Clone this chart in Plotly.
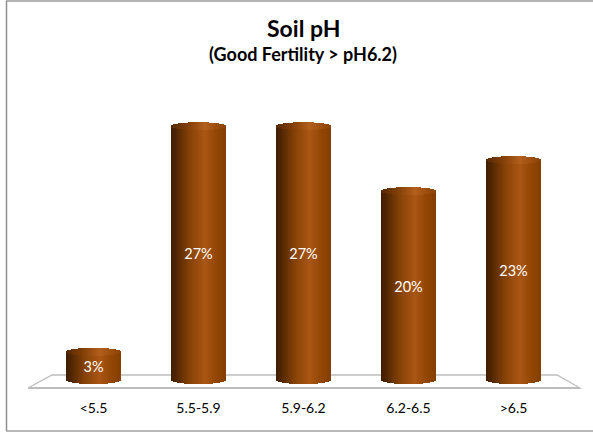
import plotly.graph_objects as go
import numpy as np

categories = ["<5.5", "5.5-5.9", "5.9-6.2", "6.2-6.5", ">6.5"]
values = [3, 27, 27, 20.1, 23.4]

W, H = 593, 432
X0, DX = 93.5, 105.0      # pixel centre of first bar, pixel step
Y0, SY = 380.0, 9.4       # pixel of zero, pixels per percent
AXB = 398.0
BAR = 55.0 / DX
CAP = 4.0 / SY
N = 44

stops = [(0.0, (62, 28, 2)), (0.12, (84, 40, 3)), (0.35, (134, 66, 6)), (0.62, (170, 86, 20)),
         (0.82, (148, 71, 4)), (1.0, (132, 62, 2))]
cap_stops = [(0.0, (84, 40, 4)), (0.3, (128, 62, 6)), (0.62, (178, 94, 28)), (1.0, (140, 66, 4))]


def col(t, st):
    for (a, ca), (b, cb) in zip(st, st[1:]):
        if t <= b:
            f = (t - a) / (b - a)
            c = [round(p + (q - p) * f) for p, q in zip(ca, cb)]
            return f"rgb({c[0]},{c[1]},{c[2]})"
    return f"rgb{st[-1][1]}"


fig = go.Figure()
x = list(range(len(categories)))
vals = np.array(values, float)
for i in range(N):
    t = (i + 0.5) / N
    u = 2 * t - 1
    s = np.sqrt(max(0, 1 - u * u))
    off = (t - 0.5) * BAR - BAR / N / 2
    fig.add_trace(go.Bar(x=x, y=vals, base=-CAP * s * np.ones(len(x)),
                         offset=off, width=BAR / N * 1.25,
                         marker=dict(color=col(t, stops), line_width=0), hoverinfo="skip", showlegend=False))
for i in range(N):
    t = (i + 0.5) / N
    u = 2 * t - 1
    s = np.sqrt(max(0, 1 - u * u))
    off = (t - 0.5) * BAR - BAR / N / 2
    fig.add_trace(go.Bar(x=x, y=[2 * CAP * s] * len(x), base=vals - CAP * s,
                         offset=off, width=BAR / N * 1.25,
                         marker=dict(color=col(t, cap_stops), line_width=0), hoverinfo="skip", showlegend=False))

fig.add_trace(go.Scatter(x=x, y=vals / 2 - 0.25, mode="text",
                         text=[f"{round(v)}%" for v in values],
                         textfont=dict(family="Lato", size=14.5, color="white"),
                         hoverinfo="skip", showlegend=False))


def px(a, b):
    return f"{a / W:.5f}", f"{1 - b / H:.5f}"


def pline(a0, b0, a1, b1, color, width):
    return dict(type="line", xref="paper", yref="paper", x0=a0 / W, x1=a1 / W, y0=1 - b0 / H, y1=1 - b1 / H,
                line=dict(color=color, width=width), layer="below")


floor = [(28, 388), (52, 375), (557, 375), (580, 388)]
path = "M " + " L ".join("{} {}".format(*px(a, b)) for a, b in floor) + " Z"
shapes = [
    dict(type="path", xref="paper", yref="paper", path=path, fillcolor="white",
         line=dict(color="#bdbdbd", width=1.3), layer="below"),
    pline(28, 388, 580, 388, "#bdbdbd", 2),
    pline(6, 1, W, 1, "#b4b4b4", 2),
    pline(6.5, 1, 6.5, 431, "#8f8f8f", 1.5),
    pline(6, 431, W, 431, "#a0a0a0", 1.5),
]

fig.update_layout(
    width=W, height=H, margin=dict(l=0, r=0, t=0, b=0),
    paper_bgcolor="white", plot_bgcolor="rgba(0,0,0,0)",
    barmode="overlay", bargap=0,
    shapes=shapes,
    annotations=[
        dict(text="<b>Soil pH</b>", xref="paper", yref="paper", x=303 / W, y=1 - 27.5 / H, showarrow=False,
             xanchor="center", yanchor="middle", font=dict(family="Lato", size=23, color="black")),
        dict(text="<b>(Good Fertility > pH6.2)</b>", xref="paper", yref="paper", x=303 / W, y=1 - 54 / H,
             showarrow=False, xanchor="center", yanchor="middle", font=dict(family="Lato", size=18, color="black")),
    ],
    xaxis=dict(range=[-X0 / DX, (W - X0) / DX], tickmode="array", tickvals=x, ticktext=categories,
               showgrid=False, zeroline=False, showline=False, ticks="", ticklen=0,
               tickfont=dict(family="Lato", size=14, color="black")),
    yaxis=dict(range=[(Y0 - AXB) / SY, Y0 / SY], domain=[1 - AXB / H, 1], visible=False),
)
fig.write_html("out.html", post_script="document.body.style.margin='0';", config={"displayModeBar": False})
